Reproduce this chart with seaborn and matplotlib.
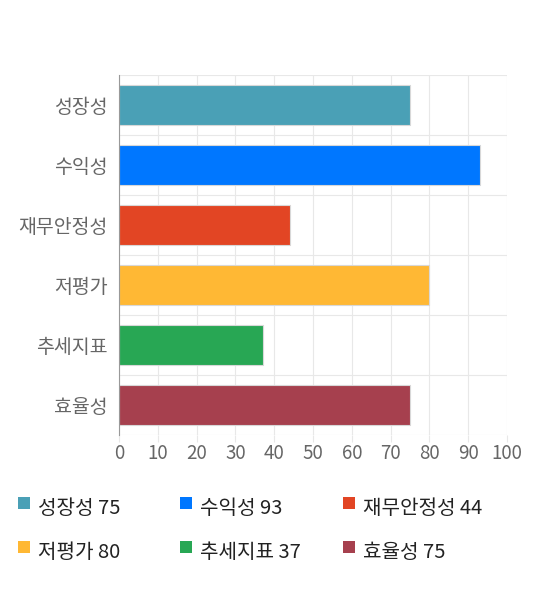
import numpy as np
import pandas as pd
import matplotlib.pyplot as plt
import seaborn as sns
from matplotlib.patches import Rectangle

categories = ['성장성', '수익성', '재무안정성', '저평가', '추세지표', '효율성']
scores = [75, 93, 44, 80, 37, 75]
colors = ['#4aa0b6', '#0077ff', '#e24524', '#ffb834', '#28a754', '#a6404e']
x_ticks = list(range(0, 101, 10))

sns.set_theme(style='white')
plt.rcParams['font.family'] = ['Noto Sans CJK KR', 'DejaVu Sans']

df = pd.DataFrame({'category': categories, 'score': scores})

fig = plt.figure(figsize=(5.4, 5.9), dpi=100)
ax = fig.add_axes([0.2204, 0.2627, 0.7185, 0.6102])

sns.barplot(data=df, x='score', y='category', hue='category', palette=colors,
            order=categories, legend=False, width=0.68, ax=ax,
            edgecolor='#d8d8d8', linewidth=0.8, saturation=1)

ax.set_xlim(0, 100)
ax.set_ylim(len(categories) - 0.5, -0.5)
ax.set_xticks(x_ticks)
ax.set_yticks(np.arange(len(categories) + 1) - 0.5, minor=True)
ax.grid(axis='x', color='#e8e8e8', linewidth=0.8)
ax.grid(axis='y', which='minor', color='#e8e8e8', linewidth=0.8)
ax.set_axisbelow(True)

for s in ['top', 'right', 'bottom']:
    ax.spines[s].set_visible(False)
ax.spines['left'].set_color('#999999')
ax.spines['left'].set_linewidth(0.8)

ax.tick_params(axis='y', which='major', length=0, labelsize=14, labelcolor='#666666', pad=8)
ax.tick_params(axis='y', which='minor', length=9, color='#e8e8e8', width=0.8)
ax.tick_params(axis='x', length=5, color='#e8e8e8', width=0.8, labelsize=13.5,
               labelcolor='#666666', pad=1, bottom=True)
ax.set_xlabel('')
ax.set_ylabel('')

# legend, row-major, 3 columns
col_x = [18, 180, 343]
row_y = [497, 541]
for i, (cat, val, c) in enumerate(zip(categories, scores, colors)):
    px = col_x[i % 3]
    py = row_y[i // 3]
    fig.patches.append(Rectangle((px / 540, 1 - (py + 12) / 590), 12 / 540, 12 / 590,
                                 transform=fig.transFigure, facecolor=c, edgecolor='none'))
    fig.text((px + 20) / 540, 1 - (py + 12) / 590, f'{cat} {val}', fontsize=14.5,
             color='#222222', va='center', ha='left')

fig.savefig('out.png', dpi=100)
